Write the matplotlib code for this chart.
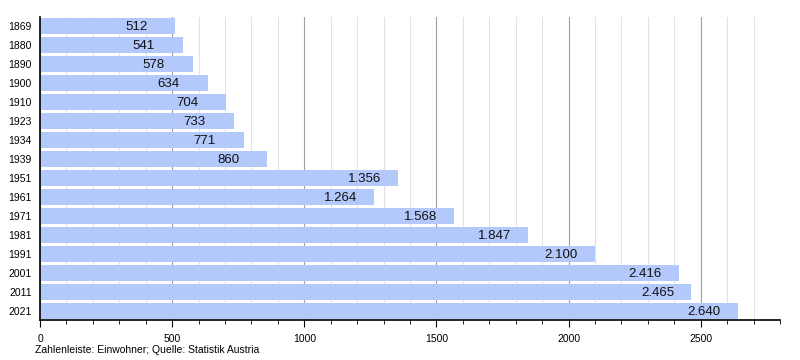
import matplotlib
matplotlib.use("Agg")
import matplotlib.pyplot as plt
from matplotlib.ticker import MultipleLocator

years = ["1869", "1880", "1890", "1900", "1910", "1923", "1934", "1939",
         "1951", "1961", "1971", "1981", "1991", "2001", "2011", "2021"]
einwohner = [512, 541, 578, 634, 704, 733, 771, 860,
             1356, 1264, 1568, 1847, 2100, 2416, 2465, 2640]

plt.rcParams['font.family'] = ['Liberation Sans', 'DejaVu Sans']

fig = plt.figure(figsize=(8, 3.6), dpi=100)
ax = fig.add_axes([0.05, 0.111, 0.925, 0.842])

pos = list(range(len(years)))
ax.barh(pos, einwohner, height=0.84, color="#b3c9fb", zorder=2)

# value labels start a fixed distance left of the bar end
for p, v in zip(pos, einwohner):
    txt = f"{v:,}".replace(",", ".")
    ax.text(v - 190, p + 0.05, txt, ha="left", va="center",
            fontsize=9.5, color="#111111", zorder=3)

ax.set_xlim(0, 2800)
ax.set_ylim(len(years) - 0.5, -0.5)
ax.set_yticks(pos)
ax.set_yticklabels(years, fontsize=7.5)
ax.tick_params(axis="y", length=0, pad=6)

ax.xaxis.set_major_locator(MultipleLocator(500))
ax.xaxis.set_minor_locator(MultipleLocator(100))
ax.tick_params(axis="x", which="major", length=5, labelsize=7.5, pad=5, direction="out")
ax.tick_params(axis="x", which="minor", length=3, direction="out")
ax.grid(axis="x", which="major", color="#a0a0a0", linewidth=0.8, zorder=0)
ax.grid(axis="x", which="minor", color="#e2e2e2", linewidth=0.8, zorder=0)

for s in ["top", "right"]:
    ax.spines[s].set_visible(False)
ax.spines["left"].set_linewidth(1.2)
ax.spines["bottom"].set_linewidth(1.2)

fig.text(35 / 800, 1 - 350 / 360, "Zahlenleiste: Einwohner; Quelle: Statistik Austria",
         fontsize=7.5, ha="left", va="center")

fig.savefig("out.png", dpi=100)
